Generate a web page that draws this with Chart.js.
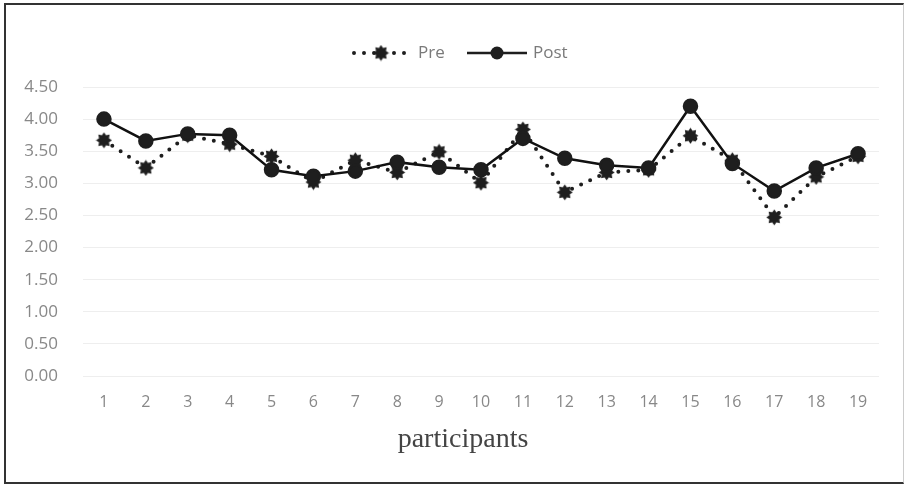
<!DOCTYPE html>
<html>
<head>
<meta charset="utf-8">
<script src="https://cdn.jsdelivr.net/npm/chart.js@4"></script>
<style>
  html, body { margin: 0; padding: 0; background: #fff; }
  #wrap { position: relative; width: 906px; height: 484px; }
  #frame {
    position: absolute; left: 4px; top: 3px; width: 897px; height: 477px;
    border: 2px solid #333; border-right: 1px solid #ccc; pointer-events: none;
  }
</style>
</head>
<body>
<div id="wrap">
  <canvas id="myChart" width="906" height="484"></canvas>
  <div id="frame"></div>
</div>
<script>
// Data
var participants = ['1', '2', '3', '4', '5', '6', '7', '8', '9', '10',
                    '11', '12', '13', '14', '15', '16', '17', '18', '19'];
var preScores  = [3.67, 3.24, 3.75, 3.61, 3.42, 3.02, 3.36, 3.17, 3.49, 3.01,
                  3.84, 2.86, 3.17, 3.21, 3.74, 3.36, 2.47, 3.10, 3.42];
var postScores = [4.00, 3.66, 3.77, 3.75, 3.21, 3.11, 3.19, 3.33, 3.25, 3.21,
                  3.70, 3.39, 3.28, 3.24, 4.20, 3.31, 2.88, 3.24, 3.46];
var yTicks = [0, 0.5, 1, 1.5, 2, 2.5, 3, 3.5, 4, 4.5];
var xTitle = 'participants';

// Star-like marker for the Pre series
function makeStar() {
    var c = document.createElement('canvas');
    c.width = 17; c.height = 17;
    var g = c.getContext('2d');
    g.fillStyle = '#1e1e1e';
    g.beginPath();
    var n = 8;
    for (var i = 0; i < n * 2; i++) {
        var r = (i % 2 === 0) ? 8 : 5.4;
        var a = Math.PI * i / n;
        var x = 8.5 + r * Math.cos(a), y = 8.5 + r * Math.sin(a);
        if (i === 0) g.moveTo(x, y); else g.lineTo(x, y);
    }
    g.closePath();
    g.fill();
    return c;
}
var starImg = makeStar();

// Legend (line + marker) and axis title drawn by hand
var lineLegend = {
    id: 'lineLegend',
    afterDraw: function(chart) {
        var ctx = chart.ctx;
        var y = 53;
        ctx.save();
        // Pre
        ctx.strokeStyle = '#1e1e1e';
        ctx.lineWidth = 4;
        ctx.lineCap = 'round';
        ctx.setLineDash([0, 10]);
        ctx.beginPath();
        ctx.moveTo(354, y); ctx.lineTo(410, y);
        ctx.stroke();
        ctx.drawImage(starImg, 381 - 8.5, y - 8.5);
        // Post
        ctx.setLineDash([]);
        ctx.lineCap = 'butt';
        ctx.lineWidth = 2.5;
        ctx.beginPath();
        ctx.moveTo(467, y); ctx.lineTo(527, y);
        ctx.stroke();
        ctx.fillStyle = '#1e1e1e';
        ctx.beginPath();
        ctx.arc(497, y, 6.5, 0, Math.PI * 2);
        ctx.fill();
        // labels
        ctx.font = '17px "Open Sans"';
        ctx.fillStyle = '#7a7a7a';
        ctx.textBaseline = 'middle';
        ctx.fillText('Pre', 418, y);
        ctx.fillText('Post', 533, y);
        // x axis title
        ctx.font = '28px "Liberation Serif"';
        ctx.fillStyle = '#444';
        ctx.textAlign = 'center';
        ctx.textBaseline = 'alphabetic';
        ctx.fillText(xTitle, 463, 447);
        ctx.restore();
    }
};

var ctx = document.getElementById('myChart').getContext('2d');

var data = {
    labels: participants,
    datasets: [{
        label: 'Pre',
        data: preScores,
        borderColor: '#1e1e1e',
        borderWidth: 4,
        borderDash: [0, 10],
        borderCapStyle: 'round',
        pointStyle: starImg,
        tension: 0,
        order: 1
    }, {
        label: 'Post',
        data: postScores,
        borderColor: '#111',
        borderWidth: 2.5,
        pointStyle: 'circle',
        pointRadius: 6.5,
        pointBackgroundColor: '#1e1e1e',
        pointBorderColor: '#1e1e1e',
        tension: 0,
        order: 0
    }]
};

var options = {
    responsive: false,
    animation: false,
    layout: {
        padding: { top: 87, left: 0, right: 27, bottom: 0 }
    },
    plugins: {
        legend: { display: false },
        tooltip: { enabled: false }
    },
    scales: {
        x: {
            offset: true,
            grid: { display: false, drawTicks: false },
            border: { display: false },
            ticks: {
                padding: 17,
                color: '#888',
                font: { family: '"Open Sans"', size: 16 }
            },
            afterFit: function(scale) { scale.height = 108; }
        },
        y: {
            min: 0,
            max: 4.5,
            afterBuildTicks: function(scale) {
                scale.ticks = yTicks.map(function(v) { return { value: v }; });
            },
            grid: { color: '#eeeeee', drawTicks: false },
            border: { display: false },
            ticks: {
                padding: 25,
                color: '#888',
                font: { family: '"Open Sans"', size: 17 },
                callback: function(value) { return value.toFixed(2); }
            },
            afterFit: function(scale) { scale.width = 83; }
        }
    }
};

var myChart = new Chart(ctx, {
    type: 'line',
    data: data,
    options: options,
    plugins: [lineLegend]
});
</script>
</body>
</html>
